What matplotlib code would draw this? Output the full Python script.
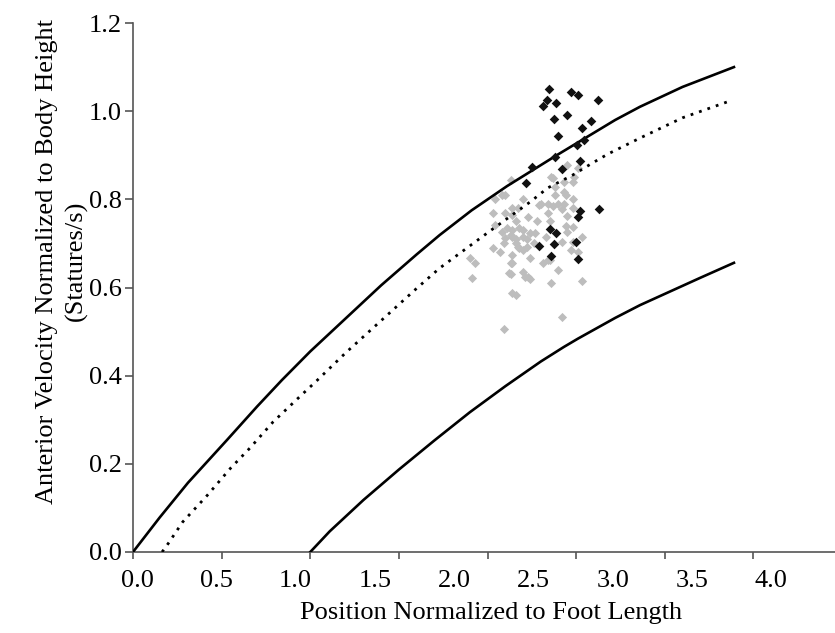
import numpy as np
import matplotlib.pyplot as plt

# ---------------------------
# Data
# ---------------------------
# upper solid curve
upper_x = [0.0, 0.15, 0.31, 0.53, 0.70, 0.84, 1.0, 1.2, 1.4, 1.6, 1.73, 1.91, 2.11, 2.39, 2.72, 2.86, 3.1, 3.39]
upper_y = [0.0, 0.078, 0.157, 0.254, 0.33, 0.39, 0.455, 0.53, 0.605, 0.675, 0.719, 0.775, 0.83, 0.90, 0.98, 1.01, 1.055, 1.10]

# middle dotted curve
mid_x = [0.164, 0.20, 0.28, 0.42, 0.55, 0.66, 0.79, 0.95, 1.03, 1.2, 1.4, 1.6, 1.73, 2.02, 2.24, 2.34, 2.48, 2.59, 2.68, 2.86, 3.1, 3.38]
mid_y = [0.0, 0.02, 0.068, 0.129, 0.19, 0.236, 0.295, 0.356, 0.386, 0.452, 0.525, 0.598, 0.644, 0.73, 0.794, 0.826, 0.855, 0.882, 0.903, 0.939, 0.985, 1.025]

# lower solid curve
lower_x = [1.0, 1.11, 1.3, 1.5, 1.7, 1.9, 2.1, 2.3, 2.43, 2.51, 2.72, 2.86, 3.2, 3.39]
lower_y = [0.0, 0.047, 0.118, 0.187, 0.253, 0.317, 0.376, 0.432, 0.465, 0.484, 0.531, 0.56, 0.622, 0.656]

# black points
black_x = [2.348, 2.472, 2.511, 2.624, 2.336, 2.387, 2.314, 2.376, 2.449, 2.585,
           2.534, 2.398, 2.545, 2.506, 2.381, 2.523, 2.252, 2.421, 2.218, 2.523,
           2.630, 2.511, 2.353, 2.387, 2.291, 2.376, 2.500, 2.359, 2.511]
black_y = [1.050, 1.044, 1.037, 1.025, 1.025, 1.019, 1.012, 0.982, 0.991, 0.978,
           0.962, 0.944, 0.935, 0.923, 0.896, 0.887, 0.873, 0.869, 0.837, 0.774,
           0.778, 0.760, 0.733, 0.724, 0.694, 0.699, 0.703, 0.672, 0.665]

# gray points
gray_x = [2.10, 2.04, 2.20, 2.14, 2.30, 2.36, 2.43, 2.49, 2.51, 2.48,
          2.44, 2.38, 2.40, 2.34, 2.48, 2.48, 2.03, 2.10, 2.17, 2.23,
          2.35, 2.28, 2.16, 2.11, 2.20, 2.08, 2.13, 2.16, 2.09, 2.03,
          2.18, 2.26, 2.24, 2.45, 2.53, 2.47, 2.51, 2.07, 2.14, 2.20,
          2.24, 2.31, 2.35, 1.90, 1.93, 2.13, 2.20, 2.23, 2.13, 1.91,
          2.36, 2.40, 2.53, 2.16, 2.42, 2.09,
          2.43, 2.37, 2.42, 2.14, 2.34, 2.45, 2.04, 2.44, 2.48, 2.14,
          2.18, 2.27, 2.10, 2.14, 2.20, 2.22, 2.16, 2.17, 2.22, 2.33,
          2.48, 2.42, 2.34, 2.14, 2.12, 2.21, 2.24, 2.14,
          2.45, 2.37, 2.13, 2.38, 2.08, 2.43, 2.29]
gray_y = [0.81, 0.80, 0.80, 0.78, 0.79, 0.85, 0.84, 0.85, 0.87, 0.84,
          0.81, 0.81, 0.79, 0.79, 0.80, 0.78, 0.77, 0.77, 0.78, 0.76,
          0.75, 0.75, 0.75, 0.735, 0.73, 0.726, 0.72, 0.71, 0.70, 0.69,
          0.69, 0.70, 0.724, 0.726, 0.715, 0.685, 0.68, 0.68, 0.674, 0.685,
          0.667, 0.656, 0.662, 0.667, 0.656, 0.656, 0.635, 0.624, 0.631, 0.622,
          0.61, 0.64, 0.615, 0.583, 0.533, 0.506,
          0.79, 0.785, 0.778, 0.765, 0.77, 0.762, 0.742, 0.74, 0.737, 0.73,
          0.735, 0.724, 0.712, 0.715, 0.715, 0.71, 0.70, 0.692, 0.692, 0.715,
          0.703, 0.703, 0.662, 0.656, 0.633, 0.624, 0.62, 0.588,
          0.878, 0.848, 0.844, 0.828, 0.81, 0.817, 0.787]

# tick labels (printed labels sit on their own spacing, not on the tick marks)
x_tick_labels = ["0.0", "0.5", "1.0", "1.5", "2.0", "2.5", "3.0", "3.5", "4.0"]
x_label_pos = [0.023, 0.470, 0.917, 1.364, 1.811, 2.259, 2.706, 3.153, 3.600]
x_tick_marks = [0.0, 0.5, 1.0, 1.5, 2.0, 2.5, 3.0, 3.5]
y_ticks = [0.0, 0.2, 0.4, 0.6, 0.8, 1.0, 1.2]

# ---------------------------
# Plot
# ---------------------------
plt.rcParams["font.family"] = ["Liberation Serif", "DejaVu Serif"]
FS = 19

fig = plt.figure(figsize=(8.35, 6.33), dpi=100)
ax = fig.add_axes([133 / 835, 81 / 633, 702 / 835, 529 / 633])

ax.scatter(gray_x, gray_y, marker="D", s=22, color="#bdbdbd", linewidths=0, zorder=2)
ax.plot(upper_x, upper_y, color="black", lw=1.9, zorder=3)
ax.plot(lower_x, lower_y, color="black", lw=1.9, zorder=3)
ax.plot(mid_x, mid_y, color="black", lw=2.0, linestyle=(0, (1.0, 2.2)), zorder=3)
ax.scatter(black_x, black_y, marker="D", s=24, color="#111111", linewidths=0, zorder=4)

ax.set_xlim(0, 3.96)
ax.set_ylim(0, 1.2)

for side in ["top", "right"]:
    ax.spines[side].set_visible(False)
for side in ["left", "bottom"]:
    ax.spines[side].set_color("#555555")
    ax.spines[side].set_linewidth(1.2)

ax.set_xticks(x_label_pos)
ax.set_xticklabels(x_tick_labels)
ax.set_xticks(x_tick_marks, minor=True)
ax.tick_params(axis="x", which="major", length=0, pad=13, labelsize=FS)
ax.tick_params(axis="x", which="minor", length=5, width=1.2, color="#555555", direction="out")

ax.set_yticks(y_ticks)
ax.set_yticklabels([f"{v:.1f}" for v in y_ticks])
ax.tick_params(axis="y", length=6, width=1.2, color="#555555", pad=2, labelsize=FS)

ax.set_xlabel("Position Normalized to Foot Length", fontsize=FS)
ax.xaxis.set_label_coords((491 - 133) / 702, -0.094)
ax.set_ylabel("Anterior Velocity Normalized to Body Height\n(Statures/s)", fontsize=FS,
              linespacing=1.4)
ax.yaxis.set_label_coords(-0.064, 0.55)

fig.savefig("out.png", dpi=100)
